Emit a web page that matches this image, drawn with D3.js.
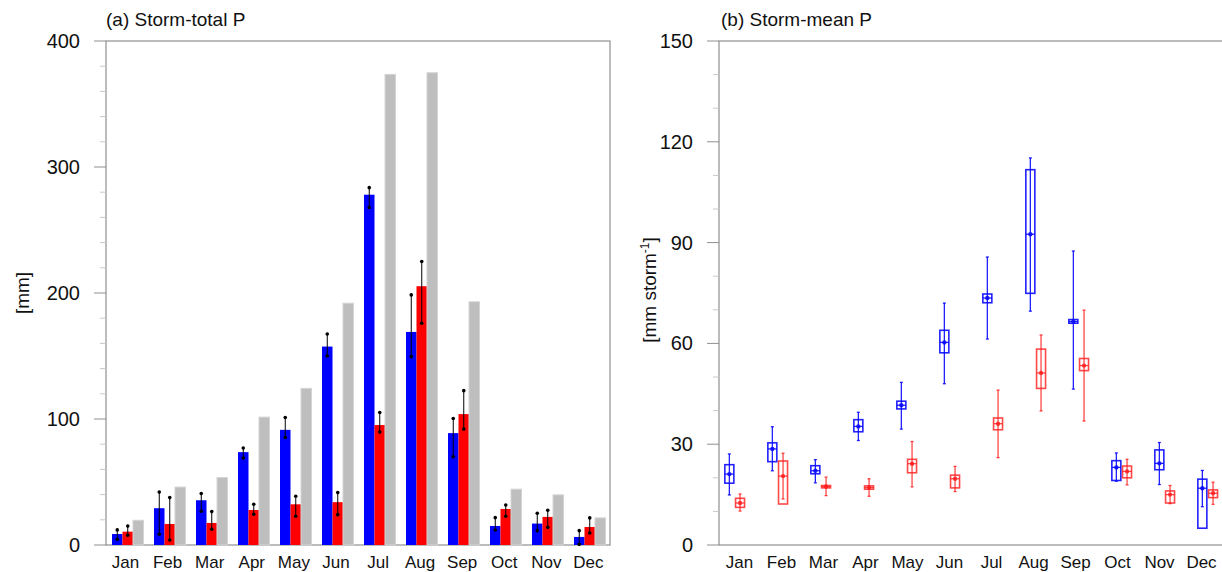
<!DOCTYPE html>
<html>
<head>
<meta charset="utf-8">
<script src="https://cdn.jsdelivr.net/npm/d3@7"></script>
<style>
  body { margin: 0; background: #fff; }
  text { font-family: "Liberation Sans", Arial, sans-serif; fill: #111; }
</style>
</head>
<body>
<div id="chart"></div>
<script>
var months = ["Jan", "Feb", "Mar", "Apr", "May", "Jun", "Jul", "Aug", "Sep", "Oct", "Nov", "Dec"];

// (a) storm-total P [mm]
var totalBlue   = [8.7, 29.2, 35.5, 73.7, 91.4, 157.5, 278, 169.1, 88.8, 15.1, 17, 6.4];
var totalBlueLo = [4.5, 8.5, 26.8, 69, 85.3, 150, 267.8, 149.5, 70, 11.9, 11.4, 0.5];
var totalBlueHi = [12, 42, 40.8, 77, 101.2, 167.5, 283.6, 198.5, 100.4, 21.7, 25.2, 11.4];
var totalRed    = [10.6, 16.7, 17.5, 27.8, 32.3, 34, 95.2, 205.4, 103.9, 28.6, 22.3, 14.3];
var totalRedLo  = [7.7, 4, 12.5, 24.4, 22.8, 24.1, 89.6, 176, 92, 22.8, 14, 9.5];
var totalRedHi  = [15, 37.6, 26.5, 32.3, 38.7, 41.6, 105.2, 225, 122.5, 31.8, 27.6, 21.5];
var totalGray   = [19.6, 46, 53.5, 101.5, 124.3, 191.9, 373.5, 374.8, 193, 44.3, 39.8, 21.5];

// (b) storm-mean P [mm storm-1]
var blueWhiskLo = [14.9, 22.1, 18.5, 31.1, 34.5, 48, 61.3, 69.6, 46.4, 19, 18, 11.4];
var blueBoxLo   = [18.4, 24.8, 21.2, 33.7, 40.5, 57.2, 72.1, 74.9, 66, 19.2, 22.4, 5];
var blueMid     = [21.1, 28.6, 22.1, 35.3, 41.6, 60.3, 73.5, 92.5, 66.5, 23.1, 24.3, 16.9];
var blueBoxHi   = [23.9, 30.4, 23.6, 37.3, 42.8, 63.9, 74.7, 111.7, 67.1, 25.1, 28.3, 19.6];
var blueWhiskHi = [27.1, 35.2, 25.4, 39.5, 48.4, 72, 85.7, 115.2, 87.5, 27.4, 30.5, 22.2];

var redWhiskLo = [10.1, 13.7, 14.7, 14.5, 17.3, 15.9, 26, 39.9, 36.9, 17.9, 12.3, 12.1];
var redBoxLo   = [11.2, 12.2, 17, 16.6, 21.5, 17, 34.3, 46.6, 51.9, 20, 12.5, 14.1];
var redMid     = [12.5, 20.5, 17.4, 17.1, 24.2, 19.7, 36.1, 51.2, 53.4, 21.9, 15, 15.4];
var redBoxHi   = [13.9, 25, 17.7, 17.6, 25.5, 20.8, 37.8, 58.3, 55.5, 23.5, 16.1, 16.4];
var redWhiskHi = [15.2, 27.3, 20.2, 19.7, 30.8, 23.4, 46.1, 62.5, 69.9, 25.5, 17.7, 18.7];

var svgWidth = 1222, svgHeight = 572;
var plotTop = 41, plotBottom = 545;
var frameColor = "#8f8f8f";

var svg = d3.select("#chart")
    .append("svg")
    .attr("width", svgWidth)
    .attr("height", svgHeight);

// y axis with outward major + minor ticks, plus the frame box
function drawFrame(g, x0, x1, y, majors, minors) {
    g.append("rect")
        .attr("x", x0).attr("y", plotTop)
        .attr("width", x1 - x0).attr("height", plotBottom - plotTop)
        .attr("fill", "none").attr("stroke", frameColor).attr("stroke-width", 1.2);

    g.selectAll(".minor").data(minors).enter().append("line")
        .attr("x1", x0 - 6).attr("x2", x0)
        .attr("y1", d => y(d)).attr("y2", d => y(d))
        .attr("stroke", "#c8c8c8");

    g.selectAll(".major").data(majors).enter().append("line")
        .attr("x1", x0 - 12).attr("x2", x0)
        .attr("y1", d => y(d)).attr("y2", d => y(d))
        .attr("stroke", frameColor);

    g.selectAll(".ylab").data(majors).enter().append("text")
        .attr("x", x0 - 26)
        .attr("y", d => y(d) + 7)
        .attr("text-anchor", "end")
        .style("font-size", "20px")
        .text(d => d);
}

function drawMonths(g, x) {
    g.selectAll(".mlab").data(months).enter().append("text")
        .attr("x", d => x(d) + x.bandwidth() / 2)
        .attr("y", 568)
        .attr("text-anchor", "middle")
        .style("font-size", "17px")
        .text(d => d);
}

// ---------- panel (a) ----------
var gA = svg.append("g");
var xA = d3.scaleBand().domain(months).range([106, 610]);
var sub = d3.scaleBand().domain(["blue", "red", "gray"]).range([6, 37.5]);
var yA = d3.scaleLinear().domain([0, 400]).range([plotBottom, plotTop]);

drawFrame(gA, 106, 610, yA, d3.range(0, 401, 100), d3.range(0, 401, 20).filter(d => d % 100 != 0));

var barsA = [
    {key: "blue", vals: totalBlue, lo: totalBlueLo, hi: totalBlueHi, fill: "#0000ff", stroke: "none"},
    {key: "red", vals: totalRed, lo: totalRedLo, hi: totalRedHi, fill: "#ff0000", stroke: "none"},
    {key: "gray", vals: totalGray, fill: "#bebebe", stroke: "#d4d4d4"}
];

barsA.forEach(function(s) {
    gA.selectAll(".bar-" + s.key).data(months).enter().append("rect")
        .attr("x", d => xA(d) + sub(s.key))
        .attr("width", sub.bandwidth())
        .attr("y", (d, i) => yA(s.vals[i]))
        .attr("height", (d, i) => yA(0) - yA(s.vals[i]))
        .attr("fill", s.fill)
        .attr("stroke", s.stroke);
});

// error bars
barsA.filter(s => s.lo).forEach(function(s) {
    var cx = d => xA(d) + sub(s.key) + sub.bandwidth() / 2;
    gA.selectAll(".err-" + s.key).data(months).enter().append("line")
        .attr("x1", cx).attr("x2", cx)
        .attr("y1", (d, i) => yA(s.lo[i]))
        .attr("y2", (d, i) => yA(s.hi[i]))
        .attr("stroke", "#000").attr("stroke-width", 1);
    [s.lo, s.hi].forEach(function(arr, k) {
        gA.selectAll(".dot-" + s.key + k).data(months).enter().append("circle")
            .attr("cx", cx)
            .attr("cy", (d, i) => yA(arr[i]))
            .attr("r", 1.8)
            .attr("fill", "#000");
    });
});

drawMonths(gA, d3.scaleBand().domain(months).range([104.5, 609.5]));

gA.append("text")
    .attr("x", 106).attr("y", 26)
    .style("font-size", "19px")
    .text("(a) Storm-total P");

gA.append("text")
    .attr("transform", "translate(29," + 293 + ") rotate(-90)")
    .attr("text-anchor", "middle")
    .style("font-size", "19px")
    .text("[mm]");

// ---------- panel (b) ----------
var gB = svg.append("g");
var xB = d3.scaleBand().domain(months).range([719, 1235]);
var subB = d3.scaleBand().domain(["blue", "red"]).range([5, 26.4]);
var yB = d3.scaleLinear().domain([0, 150]).range([plotBottom, plotTop]);

drawFrame(gB, 719, 1235, yB, d3.range(0, 151, 30), d3.range(0, 151, 10).filter(d => d % 30 != 0));

var boxesB = [
    {key: "blue", wlo: blueWhiskLo, blo: blueBoxLo, mid: blueMid, bhi: blueBoxHi, whi: blueWhiskHi, color: "#0a0aff", op: 0.9},
    {key: "red", wlo: redWhiskLo, blo: redBoxLo, mid: redMid, bhi: redBoxHi, whi: redWhiskHi, color: "#ff1a1a", op: 0.8}
];

var boxW = 9;
boxesB.forEach(function(s) {
    var cx = d => xB(d) + subB(s.key) + subB.bandwidth() / 2;
    var g = gB.append("g").attr("stroke", s.color).attr("stroke-opacity", s.op).attr("fill", "none");

    g.selectAll(".wh").data(months).enter().append("line")
        .attr("x1", cx).attr("x2", cx)
        .attr("y1", (d, i) => yB(s.wlo[i]))
        .attr("y2", (d, i) => yB(s.whi[i]))
        .attr("stroke-width", 1.3);

    [s.wlo, s.whi].forEach(function(arr) {
        g.selectAll(null).data(months).enter().append("line")
            .attr("x1", d => cx(d) - 1.5).attr("x2", d => cx(d) + 1.5)
            .attr("y1", (d, i) => yB(arr[i]))
            .attr("y2", (d, i) => yB(arr[i]))
            .attr("stroke-width", 1.3);
    });

    g.selectAll(".box").data(months).enter().append("rect")
        .attr("x", d => cx(d) - boxW / 2)
        .attr("width", boxW)
        .attr("y", (d, i) => yB(Math.max(s.blo[i], s.bhi[i])))
        .attr("height", (d, i) => Math.abs(yB(s.blo[i]) - yB(s.bhi[i])))
        .attr("stroke-width", 1.6);

    g.selectAll(".med").data(months).enter().append("line")
        .attr("x1", d => cx(d) - boxW / 2).attr("x2", d => cx(d) + boxW / 2)
        .attr("y1", (d, i) => yB(s.mid[i]))
        .attr("y2", (d, i) => yB(s.mid[i]))
        .attr("stroke-width", 1.3);

    gB.selectAll(".dot-" + s.key).data(months).enter().append("circle")
        .attr("cx", cx)
        .attr("cy", (d, i) => yB(s.mid[i]))
        .attr("r", 2.2)
        .attr("fill", s.color)
        .attr("fill-opacity", s.op);
});

// month labels of panel (b) sit on a slightly tighter grid than the boxes
drawMonths(gB, d3.scaleBand().domain(months).range([718.5, 1222.5]));

gB.append("text")
    .attr("x", 721).attr("y", 26)
    .style("font-size", "19px")
    .text("(b) Storm-mean P");

var ylabB = gB.append("text")
    .attr("transform", "translate(656," + 290 + ") rotate(-90)")
    .attr("text-anchor", "middle")
    .style("font-size", "19px");
ylabB.append("tspan").text("[mm storm");
ylabB.append("tspan").attr("dy", -7).style("font-size", "12px").text("-1");
ylabB.append("tspan").attr("dy", 7).text("]");
</script>
</body>
</html>
